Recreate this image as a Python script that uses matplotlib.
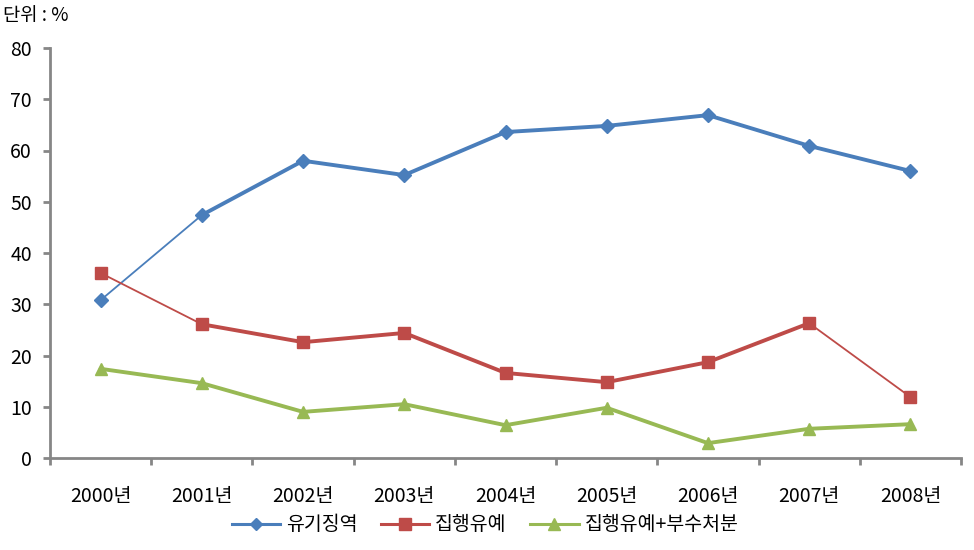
import matplotlib.pyplot as plt
import numpy as np

plt.rcParams['font.family'] = ['Noto Sans CJK KR', 'DejaVu Sans']

years = ['2000년', '2001년', '2002년', '2003년', '2004년', '2005년', '2006년', '2007년', '2008년']
yugi = [30.8, 47.4, 58.0, 55.2, 63.6, 64.8, 66.9, 60.9, 56.0]
jiphaeng = [36.1, 26.1, 22.6, 24.4, 16.6, 14.8, 18.7, 26.3, 11.9]
jiphaeng_busu = [17.4, 14.6, 9.0, 10.5, 6.4, 9.8, 2.9, 5.7, 6.6]
names = ['유기징역', '집행유예', '집행유예+부수처분']

colors = ['#4A7EBB', '#BE4B48', '#98B954']
markers = ['D', 's', '^']
msizes = [7, 9, 9]
# segments drawn thin (index of segment start)
thin = [[0], [0, 7], []]

fig = plt.figure(figsize=(9.74, 5.5), dpi=100)
ax = fig.add_axes([50 / 974, 1 - 458 / 550, 911 / 974, 410 / 550])

x = np.arange(len(years))
for vals, c, m, ms, th, name in zip([yugi, jiphaeng, jiphaeng_busu], colors, markers, msizes, thin, names):
    for i in range(len(x) - 1):
        lw = 1.3 if i in th else 2.8
        ax.plot(x[i:i + 2], vals[i:i + 2], color=c, lw=lw, solid_capstyle='round', zorder=2)
    ax.plot(x, vals, linestyle='none', marker=m, ms=ms, color=c, zorder=3)
    # legend proxy
    ax.plot([], [], color=c, lw=2.2, marker=m, ms=ms - 1, label=name)

ax.set_xlim(-0.5, len(years) - 0.5)
ax.set_ylim(0, 80)
ax.set_yticks(range(0, 81, 10))
ax.set_xticks(x)
ax.set_xticklabels(years)
ax.set_xticks(np.arange(-0.5, len(years), 1), minor=True)
ax.tick_params(axis='x', which='major', length=0, pad=20, labelsize=14)
ax.tick_params(axis='x', which='minor', length=5, width=2, color='#868686', direction='out')
ax.tick_params(axis='y', length=5, width=2, color='#868686', labelsize=14, pad=8)

for s in ['top', 'right']:
    ax.spines[s].set_visible(False)
for s in ['left', 'bottom']:
    ax.spines[s].set_color('#868686')
    ax.spines[s].set_linewidth(2)

fig.text(3 / 974, 1 - 15 / 550, '단위 : %', fontsize=13.5, va='center', ha='left')

ax.legend(loc='center', bbox_to_anchor=(485 / 974, 1 - 525 / 550), bbox_transform=fig.transFigure,
          ncol=3, frameon=False, fontsize=14, handlelength=2.5, columnspacing=1.2, handletextpad=0.3)

fig.savefig('out.png', dpi=100)
